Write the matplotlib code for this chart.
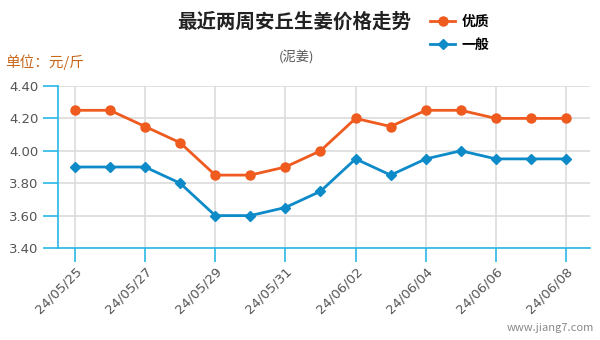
import matplotlib
matplotlib.use("Agg")
import matplotlib.pyplot as plt
from matplotlib.lines import Line2D

plt.rcParams['font.family'] = ['Noto Sans CJK SC', 'DejaVu Sans']

dates = ["24/05/25", "24/05/26", "24/05/27", "24/05/28", "24/05/29", "24/05/30", "24/05/31",
         "24/06/01", "24/06/02", "24/06/03", "24/06/04", "24/06/05", "24/06/06", "24/06/07", "24/06/08"]
premium = [4.25, 4.25, 4.15, 4.05, 3.85, 3.85, 3.90, 4.00, 4.20, 4.15, 4.25, 4.25, 4.20, 4.20, 4.20]
normal = [3.90, 3.90, 3.90, 3.80, 3.60, 3.60, 3.65, 3.75, 3.95, 3.85, 3.95, 4.00, 3.95, 3.95, 3.95]
yticks = [3.40, 3.60, 3.80, 4.00, 4.20, 4.40]

orange = "#ef5a1f"
blue = "#0d8ac8"
axis_blue = "#2bb7e6"
grid_c = "#dcdcdc"
text_c = "#555555"

fig = plt.figure(figsize=(6, 3.4), dpi=100)
ax = fig.add_axes([58/600, 1-248/340, (590-58)/600, (248-86)/340])

x = list(range(len(dates)))
ax.plot(x, premium, color=orange, lw=2, marker='o', ms=6.5, zorder=3, clip_on=False)
ax.plot(x, normal, color=blue, lw=2, marker='D', ms=5.5, zorder=3, clip_on=False)

ax.set_xlim(-0.48, 14.68)
ax.set_ylim(3.40, 4.40)
ax.set_yticks(yticks)
ax.set_yticklabels([f"{v:.2f}" for v in yticks], color=text_c, fontsize=9.5, family='DejaVu Sans')
ax.set_xticks(x[::2])
ax.set_xticklabels(dates[::2], rotation=45, ha='right', rotation_mode='anchor',
                   color=text_c, fontsize=9.5, family='DejaVu Sans')

ax.grid(True, color=grid_c, lw=1.2)
ax.set_axisbelow(True)
for s in ['top', 'right']:
    ax.spines[s].set_visible(False)
for s in ['left', 'bottom']:
    ax.spines[s].set_color(axis_blue)
    ax.spines[s].set_linewidth(1.2)
ax.tick_params(axis='y', colors=axis_blue, length=11, width=1.2, labelcolor=text_c, pad=3)
ax.tick_params(axis='x', colors=axis_blue, length=10, width=1.2, labelcolor=text_c, pad=2)

fig.text(294/600, 1-22/340, "最近两周安丘生姜价格走势", ha='center', va='center',
         fontsize=14, fontweight='bold', color="#222222")
fig.text(297/600, 1-58/340, "(泥姜)", ha='center', va='center', fontsize=9.5, color=text_c)
fig.text(5/600, 1-62/340, "单位：元/斤", ha='left', va='center', fontsize=10.5, color="#c8661a")
fig.text(594/600, 1-328/340, "www.jiang7.com", ha='right', va='center', fontsize=8, color="#888888")

handles = [Line2D([], [], color=orange, lw=2, marker='o', ms=6.5),
           Line2D([], [], color=blue, lw=2, marker='D', ms=5.5)]
fig.legend(handles, ["优质", "一般"], loc='upper left', bbox_to_anchor=(430/600, 1-15/340),
           frameon=False, prop={'size': 10, 'weight': 'bold'}, handlelength=1.8,
           handletextpad=0.5, labelspacing=0.65, borderpad=0, borderaxespad=0)

fig.savefig("out.png", dpi=100)
